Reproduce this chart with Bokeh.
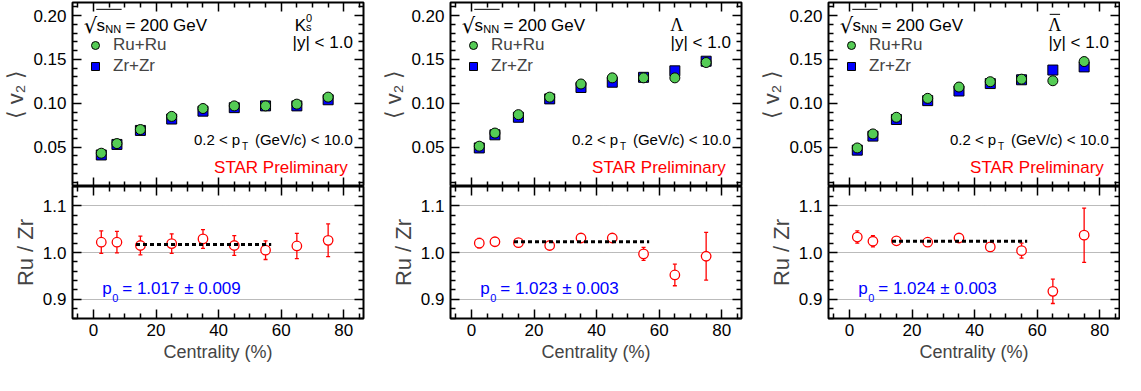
from bokeh.plotting import figure
from bokeh.models import (Range1d, LinearAxis, FixedTicker, NumeralTickFormatter, Label,
                          Legend, LegendItem, ColumnDataSource, Whisker, TeeHead, Grid, Arrow)
from bokeh.layouts import gridplot
from bokeh.embed import file_html
from bokeh.resources import INLINE

FONT = "Liberation Sans"

# ---------------- data ----------------
CENTRALITY = [2.5, 7.5, 15, 25, 35, 45, 55, 65, 75]

K0S_RU = [0.043, 0.054, 0.070, 0.085, 0.094, 0.097, 0.097, 0.099, 0.107]
K0S_ZR = [0.041, 0.053, 0.069, 0.082, 0.091, 0.095, 0.097, 0.097, 0.104]
K0S_RATIO = [1.022, 1.022, 1.015, 1.019, 1.029, 1.015, 1.005, 1.014, 1.026]
K0S_RATIO_ERR = [0.024, 0.023, 0.020, 0.021, 0.020, 0.021, 0.020, 0.027, 0.035]
K0S_P0 = 1.017
K0S_P0_ERR = 0.009

LAM_RU = [0.051, 0.066, 0.087, 0.107, 0.122, 0.129, 0.129, 0.129, 0.1465]
LAM_ZR = [0.049, 0.064, 0.084, 0.105, 0.118, 0.124, 0.1296, 0.137, 0.148]
LAM_RATIO = [1.020, 1.023, 1.021, 1.015, 1.031, 1.031, 0.997, 0.952, 0.992]
LAM_RATIO_ERR = [0.010, 0.005, 0.005, 0.005, 0.004, 0.004, 0.014, 0.023, 0.051]
LAM_P0 = 1.023
LAM_P0_ERR = 0.003

ALAM_RU = [0.049, 0.065, 0.084, 0.1056, 0.1185, 0.1246, 0.1275, 0.1257, 0.1476]
ALAM_ZR = [0.0465, 0.0625, 0.0815, 0.103, 0.114, 0.1225, 0.1268, 0.1379, 0.1415]
ALAM_RATIO = [1.033, 1.024, 1.025, 1.022, 1.031, 1.012, 1.004, 0.917, 1.037]
ALAM_RATIO_ERR = [0.013, 0.012, 0.005, 0.005, 0.004, 0.008, 0.016, 0.026, 0.058]
ALAM_P0 = 1.024
ALAM_P0_ERR = 0.003

FIT_RANGE = [13.6, 56.8]

X_MAJOR = [0, 20, 40, 60, 80]
X_MINOR = [-5, 5, 10, 15, 25, 30, 35, 45, 50, 55, 65, 70, 75, 85]
V2_MAJOR = [0.05, 0.10, 0.15, 0.20]
V2_MINOR = [0.01, 0.02, 0.03, 0.04, 0.06, 0.07, 0.08, 0.09, 0.11, 0.12, 0.13, 0.14,
            0.16, 0.17, 0.18, 0.19, 0.21]
R_MAJOR = [0.9, 1.0, 1.1]
R_MINOR = [0.86, 0.88, 0.92, 0.94, 0.96, 0.98, 1.02, 1.04, 1.06, 1.08, 1.12, 1.14]

PARTICLES = ["K0s", "Lambda", "AntiLambda"]

X_RANGE = (-6.7, 86.3)
V2_RANGE = (0.005, 0.215)
R_RANGE = (0.859, 1.141)

GREEN = "#55cc55"
BLUE = "#0000ff"

LEFT_B = 70
RIGHT_B = 15
TOP_B = 2
BOT_B = 50
FIG_W = [378, 378, 364]
TOP_H = TOP_B + 184
BOT_H = 132 + BOT_B


def style_axis(ax, labels):
    ax.major_tick_in = 9
    ax.major_tick_out = 0
    ax.minor_tick_in = 5
    ax.minor_tick_out = 0
    ax.major_tick_line_width = 1.5
    ax.minor_tick_line_width = 1.5
    ax.major_tick_line_color = "black"
    ax.minor_tick_line_color = "black"
    ax.axis_line_color = None
    if labels:
        ax.major_label_text_font = FONT
        ax.major_label_text_font_size = "17px"
        ax.major_label_text_color = "black"
        ax.major_label_standoff = 6
    else:
        ax.major_label_text_color = None
        ax.major_label_text_font_size = "0px"
        ax.major_label_standoff = 0


def make_fig(w, h, yr, btop, bbottom, bright):
    p = figure(width=w, height=h,
               x_range=Range1d(*X_RANGE), y_range=Range1d(*yr),
               x_axis_type=None, y_axis_type=None, output_backend="svg", toolbar_location=None,
               min_border_left=LEFT_B, min_border_right=bright, min_border_top=btop,
               min_border_bottom=bbottom)
    p.outline_line_color = "black"
    p.outline_line_width = 2
    p.outline_line_alpha = 1
    p.background_fill_color = "white"
    p.border_fill_color = "white"
    return p


def txt(p, x, y, text, size, color="black", align="left", font=FONT):
    p.add_layout(Label(x=x, y=y, text=text, text_font=font, text_font_size=size,
                       text_color=color, text_align=align, text_baseline="alphabetic"))


def top_panel(w, bright, particle, ru, zr):
    p = make_fig(w, TOP_H, V2_RANGE, TOP_B, 0, bright)
    xt = FixedTicker(ticks=X_MAJOR, minor_ticks=X_MINOR)
    yt = FixedTicker(ticks=V2_MAJOR, minor_ticks=V2_MINOR)
    left = LinearAxis(ticker=yt, formatter=NumeralTickFormatter(format="0.00"),
                      axis_label="⟨ v₂ ⟩")
    style_axis(left, True)
    left.axis_label_text_font = FONT
    left.axis_label_text_font_size = "22px"
    left.axis_label_text_font_style = "normal"
    left.axis_label_standoff = 2
    p.add_layout(left, "left")
    a = LinearAxis(ticker=yt)
    style_axis(a, False)
    p.add_layout(a, "right")
    for side in ["below", "above"]:
        a = LinearAxis(ticker=xt)
        style_axis(a, False)
        p.add_layout(a, side)

    r_zr = p.scatter(CENTRALITY, zr, marker="square", size=10, fill_color=BLUE,
                     line_color="black", line_width=1)
    r_ru = p.scatter(CENTRALITY, ru, marker="circle", size=10, fill_color=GREEN,
                     line_color="black", line_width=1)
    leg = Legend(items=[LegendItem(label="Ru+Ru", renderers=[r_ru]),
                        LegendItem(label="Zr+Zr", renderers=[r_zr])],
                 location=(13, 110), padding=0, margin=0, spacing=1,
                 glyph_width=20, glyph_height=20, label_standoff=8,
                 label_text_font=FONT, label_text_font_size="17px",
                 background_fill_alpha=0, border_line_color=None)
    p.add_layout(leg, "center")

    # sqrt(s_NN) = 200 GeV
    txt(p, -3.1, 0.1885, "√", "21px", font="DejaVu Sans")
    p.add_layout(Arrow(end=None, x_start=0.9, y_start=0.2072, x_end=9.0, y_end=0.2072,
                       line_color="black", line_width=1))
    txt(p, 1.0, 0.1892, "s", "17px")
    txt(p, 3.8, 0.1847, "NN", "11px")
    txt(p, 10.2, 0.1892, "= 200 GeV", "17px")

    # particle label
    if particle == "K0s":
        txt(p, 64.3, 0.1892, "K", "17px")
        txt(p, 67.9, 0.1975, "0", "11px")
        txt(p, 67.9, 0.1872, "s", "11px")
    else:
        txt(p, 65.6, 0.1895, "Λ", "18px", align="center", font="Liberation Serif")
        if particle == "AntiLambda":
            p.add_layout(Arrow(end=None, x_start=64.0, y_start=0.2015, x_end=67.3,
                               y_end=0.2015, line_color="black", line_width=1))
    txt(p, 82.9, 0.1691, "|y| < 1.0", "17px", align="right")

    # pT range
    txt(p, 32.1, 0.0583, "0.2 < p", "15px")
    txt(p, 47.5, 0.0505, "T", "10px")
    txt(p, 82.9, 0.0583, "(GeV/c) < 10.0", "15px", align="right")
    txt(p, 81.3, 0.0267, "STAR Preliminary", "17px", color="#ff0000", align="right")
    return p


def bottom_panel(w, bright, ratio, err, p0, p0err):
    p = make_fig(w, BOT_H, R_RANGE, 0, BOT_B, bright)
    xt = FixedTicker(ticks=X_MAJOR, minor_ticks=X_MINOR)
    yt = FixedTicker(ticks=R_MAJOR, minor_ticks=R_MINOR)
    left = LinearAxis(ticker=yt, formatter=NumeralTickFormatter(format="0.0"),
                      axis_label="Ru / Zr")
    style_axis(left, True)
    left.axis_label_text_font = FONT
    left.axis_label_text_font_size = "22px"
    left.axis_label_text_font_style = "normal"
    left.axis_label_standoff = 2
    p.add_layout(left, "left")
    right = LinearAxis(ticker=yt)
    style_axis(right, False)
    p.add_layout(right, "right")
    below = LinearAxis(ticker=xt, axis_label="Centrality (%)")
    style_axis(below, True)
    below.major_label_standoff = 5
    below.axis_label_text_font = FONT
    below.axis_label_text_font_size = "18px"
    below.axis_label_text_font_style = "normal"
    below.axis_label_standoff = 3
    p.add_layout(below, "below")
    above = LinearAxis(ticker=xt)
    style_axis(above, False)
    p.add_layout(above, "above")

    p.add_layout(Grid(dimension=1, ticker=yt, grid_line_color="#777777",
                      grid_line_dash="1 1", grid_line_width=1))

    src = ColumnDataSource(dict(x=CENTRALITY, y=ratio,
                                lo=[r - e for r, e in zip(ratio, err)],
                                hi=[r + e for r, e in zip(ratio, err)]))
    p.add_layout(Whisker(source=src, base="x", upper="hi", lower="lo",
                         line_color="red", line_width=1.3,
                         upper_head=TeeHead(size=4, line_color="red", line_width=1.3),
                         lower_head=TeeHead(size=4, line_color="red", line_width=1.3)))
    p.scatter("x", "y", source=src, marker="circle", size=9.5, fill_color="white",
              line_color="red", line_width=1.3)
    p.line(FIT_RANGE, [p0, p0], line_color="black", line_width=3, line_dash="4 3")

    txt(p, 2.8, 0.924, "p", "17px", color="#0000ff")
    txt(p, 6.0, 0.9035, "0", "11px", color="#0000ff")
    txt(p, 9.2, 0.924, f"= {p0:.3f} ± {p0err:.3f}", "17px", color="#0000ff")
    return p


TOPS = [K0S_RU, LAM_RU, ALAM_RU]
ZRS = [K0S_ZR, LAM_ZR, ALAM_ZR]
RATIOS = [K0S_RATIO, LAM_RATIO, ALAM_RATIO]
ERRS = [K0S_RATIO_ERR, LAM_RATIO_ERR, ALAM_RATIO_ERR]
P0S = [K0S_P0, LAM_P0, ALAM_P0]
P0ERRS = [K0S_P0_ERR, LAM_P0_ERR, ALAM_P0_ERR]

rights = [RIGHT_B, RIGHT_B, 1]

tops = []
bots = []
for i in range(3):
    tops.append(top_panel(FIG_W[i], rights[i], PARTICLES[i], TOPS[i], ZRS[i]))
    bots.append(bottom_panel(FIG_W[i], rights[i], RATIOS[i], ERRS[i], P0S[i], P0ERRS[i]))

layout = gridplot([tops, bots], toolbar_location=None)
open("out.html", "w").write(file_html(layout, INLINE))
